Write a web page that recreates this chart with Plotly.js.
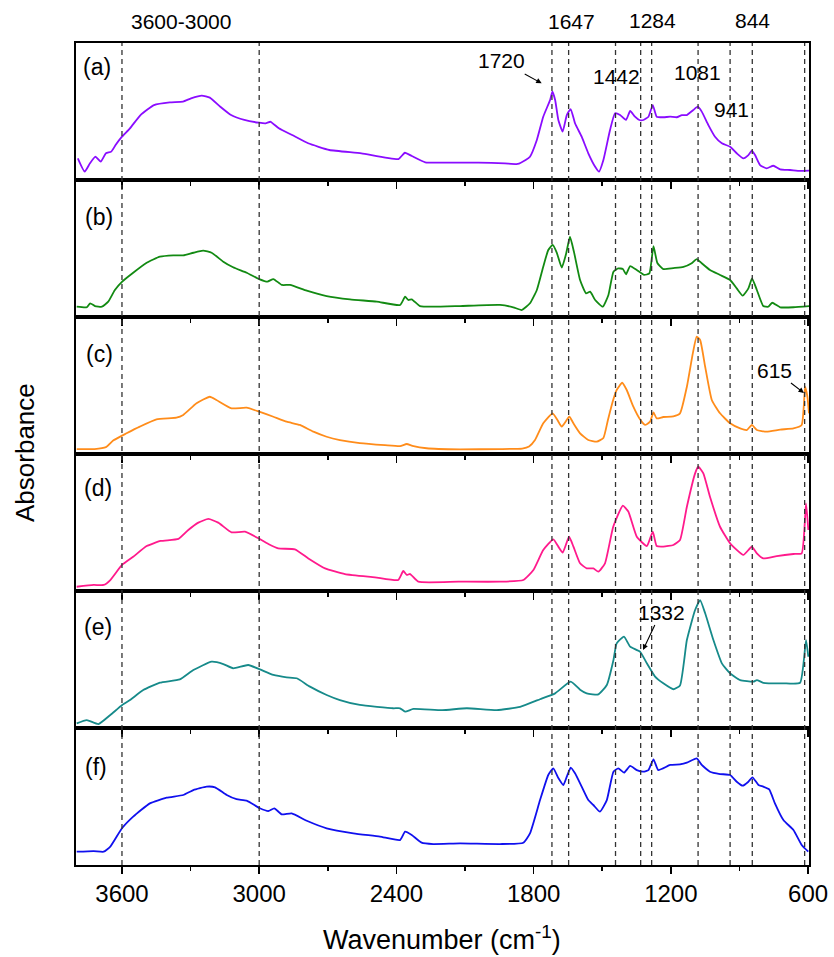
<!DOCTYPE html>
<html>
<head>
<meta charset="utf-8">
<script src="https://cdn.plot.ly/plotly-3.0.1.min.js"></script>
<style>html,body{margin:0;padding:0;background:#fff;}#chart{width:834px;height:957px;}</style>
</head>
<body>
<div id="chart"></div>
<script>
// ---------- DATA ----------
const panelLabels = ['(a)', '(b)', '(c)', '(d)', '(e)', '(f)'];
const xTickVals = [3600, 3000, 2400, 1800, 1200, 600];
const xMinorTickVals = [3300, 2700, 2100, 1500, 900];
const peakLines = [3600, 3000, 1720, 1647, 1442, 1332, 1284, 1081, 941, 844, 615];

const wnA = [3793,3763,3740,3716,3693,3670,3647,3628,3600,3565,3519,3460,3391,3333,3298,3251,3216,3170,3123,3065,3000,2972,2950,2914,2856,2786,2693,2553,2391,2363,2333,2274,2158,2042,1926,1870,1835,1816,1786,1758,1728,1718,1706,1692,1673,1655,1638,1619,1590,1561,1531,1514,1495,1466,1444,1422,1396,1378,1357,1338,1320,1298,1279,1262,1233,1203,1174,1152,1130,1102,1082,1065,1036,1007,977,941,912,883,861,846,832,810,781,752,722,679,635,594];
const absA = [0.158,0.061,0.122,0.170,0.134,0.195,0.207,0.255,0.316,0.377,0.474,0.547,0.567,0.572,0.596,0.616,0.601,0.535,0.474,0.438,0.418,0.414,0.425,0.377,0.328,0.268,0.219,0.195,0.153,0.199,0.175,0.129,0.127,0.127,0.122,0.117,0.146,0.170,0.292,0.462,0.584,0.645,0.584,0.438,0.353,0.474,0.518,0.414,0.316,0.195,0.097,0.061,0.146,0.365,0.487,0.474,0.438,0.504,0.462,0.438,0.438,0.462,0.547,0.462,0.458,0.462,0.458,0.474,0.474,0.511,0.535,0.499,0.401,0.316,0.268,0.243,0.195,0.158,0.182,0.214,0.182,0.109,0.085,0.104,0.078,0.073,0.066,0.068];

const wnB = [3798,3754,3739,3718,3688,3660,3631,3599,3551,3492,3434,3376,3332,3288,3245,3208,3157,3114,3055,3000,2964,2938,2901,2865,2792,2705,2603,2486,2384,2362,2348,2333,2297,2239,2122,1947,1889,1852,1816,1786,1758,1736,1717,1699,1677,1658,1641,1623,1597,1571,1553,1531,1498,1473,1451,1430,1410,1396,1378,1349,1317,1294,1276,1259,1233,1189,1145,1109,1087,1065,1029,985,941,912,886,861,845,824,796,774,757,722,664,594];
const absB = [0.075,0.071,0.100,0.080,0.075,0.112,0.197,0.258,0.323,0.396,0.440,0.450,0.450,0.469,0.484,0.469,0.404,0.363,0.323,0.277,0.258,0.277,0.234,0.234,0.192,0.153,0.129,0.112,0.088,0.148,0.124,0.129,0.080,0.075,0.080,0.088,0.071,0.051,0.100,0.197,0.367,0.489,0.526,0.470,0.360,0.462,0.586,0.470,0.270,0.173,0.185,0.124,0.075,0.161,0.331,0.355,0.350,0.312,0.372,0.343,0.307,0.318,0.518,0.394,0.350,0.357,0.365,0.392,0.423,0.392,0.343,0.307,0.270,0.209,0.156,0.209,0.282,0.197,0.080,0.075,0.104,0.071,0.071,0.080];

const wnC = [3798,3720,3670,3637,3580,3522,3449,3362,3332,3274,3216,3187,3121,3055,3000,2938,2880,2822,2763,2705,2647,2560,2450,2384,2355,2330,2268,2122,1950,1850,1820,1794,1758,1717,1696,1677,1644,1626,1597,1561,1524,1495,1475,1453,1437,1413,1393,1364,1335,1313,1291,1276,1262,1233,1189,1160,1130,1104,1087,1072,1050,1021,985,941,897,868,846,824,781,722,664,628,613,603,596];
const absC = [0.036,0.036,0.050,0.100,0.151,0.200,0.253,0.265,0.285,0.370,0.418,0.394,0.333,0.338,0.309,0.272,0.236,0.212,0.163,0.126,0.102,0.080,0.065,0.058,0.073,0.060,0.042,0.034,0.036,0.040,0.055,0.102,0.224,0.297,0.248,0.200,0.272,0.224,0.151,0.102,0.090,0.117,0.250,0.390,0.467,0.520,0.467,0.345,0.253,0.212,0.236,0.304,0.260,0.270,0.275,0.297,0.491,0.735,0.856,0.832,0.637,0.394,0.297,0.224,0.187,0.175,0.212,0.175,0.163,0.178,0.187,0.212,0.491,0.418,0.297];

const wnD = [3798,3724,3680,3651,3600,3551,3492,3431,3353,3310,3266,3222,3179,3121,3062,3004,2960,2917,2844,2785,2712,2625,2494,2392,2370,2355,2340,2304,2129,1947,1845,1801,1758,1714,1692,1673,1645,1626,1597,1568,1539,1517,1488,1452,1410,1386,1349,1305,1279,1262,1233,1189,1160,1130,1094,1080,1058,1029,985,941,883,846,824,796,737,664,628,609,599];
const absD = [0.031,0.044,0.044,0.080,0.190,0.250,0.328,0.365,0.380,0.445,0.499,0.526,0.499,0.428,0.433,0.385,0.343,0.311,0.304,0.238,0.165,0.124,0.100,0.080,0.146,0.117,0.124,0.068,0.068,0.068,0.080,0.153,0.299,0.377,0.324,0.280,0.396,0.324,0.202,0.165,0.165,0.141,0.202,0.469,0.623,0.580,0.396,0.328,0.433,0.328,0.324,0.336,0.372,0.615,0.859,0.907,0.859,0.688,0.469,0.348,0.263,0.323,0.275,0.238,0.255,0.270,0.275,0.640,0.445];

const wnE = [3798,3754,3703,3651,3599,3565,3507,3434,3347,3288,3208,3157,3114,3048,2997,2938,2880,2836,2778,2705,2647,2560,2414,2384,2362,2326,2200,2092,1961,1859,1772,1706,1638,1597,1568,1517,1480,1451,1437,1405,1378,1335,1305,1269,1233,1189,1160,1130,1094,1072,1050,1014,977,941,897,839,824,796,708,635,609,599];
const absE = [0.034,0.058,0.029,0.095,0.168,0.204,0.277,0.331,0.355,0.423,0.484,0.467,0.436,0.460,0.428,0.387,0.370,0.363,0.302,0.241,0.204,0.168,0.144,0.144,0.119,0.139,0.130,0.144,0.130,0.155,0.210,0.253,0.338,0.280,0.253,0.245,0.314,0.496,0.618,0.667,0.594,0.557,0.472,0.375,0.326,0.283,0.311,0.642,0.861,0.934,0.837,0.642,0.472,0.399,0.350,0.338,0.350,0.330,0.326,0.330,0.642,0.520];

const wnF = [3798,3724,3680,3651,3600,3551,3478,3405,3332,3288,3230,3193,3142,3099,3055,2997,2960,2934,2902,2858,2792,2705,2588,2472,2384,2362,2333,2290,2239,2122,1947,1845,1816,1772,1736,1714,1692,1670,1655,1638,1619,1590,1561,1539,1510,1480,1451,1430,1405,1378,1349,1320,1298,1276,1255,1203,1160,1130,1087,1065,1029,985,941,912,886,861,843,817,796,770,745,708,664,628,599];
const absF = [0.097,0.102,0.097,0.134,0.268,0.353,0.450,0.491,0.511,0.547,0.572,0.567,0.511,0.480,0.470,0.414,0.394,0.414,0.370,0.377,0.323,0.268,0.231,0.207,0.182,0.243,0.219,0.163,0.153,0.158,0.153,0.163,0.231,0.474,0.657,0.706,0.635,0.584,0.645,0.710,0.669,0.572,0.474,0.438,0.389,0.474,0.681,0.706,0.674,0.723,0.693,0.681,0.693,0.771,0.693,0.730,0.735,0.747,0.779,0.730,0.681,0.664,0.657,0.608,0.579,0.608,0.640,0.584,0.572,0.552,0.450,0.328,0.255,0.146,0.097];

const seriesWn = [wnA, wnB, wnC, wnD, wnE, wnF];
const seriesAbs = [absA, absB, absC, absD, absE, absF];
const colors = ['#8a0cff', '#128a12', '#ff8c1a', '#ff1a8c', '#168a8a', '#1010ee'];

// ---------- LAYOUT ----------
const W = 834, H = 957;
const M = {l: 76, r: 25, t: 43, b: 92};
const PW = W - M.l - M.r, PH = H - M.t - M.b;
const PX = x => (x - M.l) / PW;
const PY = y => (M.t + PH - y) / PH;
const FONT = 'Liberation Sans, Arial, sans-serif';
const N = 6;

const traces = [];
const layout = {
  width: W, height: H,
  margin: M,
  paper_bgcolor: '#fff',
  plot_bgcolor: 'rgba(0,0,0,0)',
  showlegend: false,
  font: {family: FONT, color: '#000', size: 20},
  shapes: [],
  annotations: []
};

for (let i = 0; i < N; i++) {
  const s = i === 0 ? '' : String(i + 1);
  traces.push({
    x: seriesWn[i], y: seriesAbs[i],
    xaxis: 'x' + s, yaxis: 'y' + s,
    type: 'scatter', mode: 'lines',
    line: {color: colors[i], width: 1.8, shape: 'spline', smoothing: 0.45},
    hoverinfo: 'skip'
  });
  layout['xaxis' + s] = {
    range: [3801, 596], autorange: false,
    anchor: 'y' + s,
    showline: true, linecolor: '#000', linewidth: 1.6, mirror: true,
    ticks: 'outside', ticklen: 7, tickwidth: 1.6, tickcolor: '#000',
    tickmode: 'array', tickvals: xTickVals, ticktext: xTickVals.map(String),
    minor: {tickmode: 'array', tickvals: xMinorTickVals, ticks: 'outside', ticklen: 4, tickwidth: 1.6, tickcolor: '#000', showgrid: false},
    showticklabels: i === N - 1,
    tickfont: {size: 24, family: FONT, color: '#000'},
    showgrid: false, zeroline: false
  };
  layout['yaxis' + s] = {
    domain: [1 - (i + 1) / N, 1 - i / N],
    range: [0, 1], autorange: false,
    anchor: 'x' + s,
    showline: true, linecolor: '#000', linewidth: 1.6, mirror: true,
    ticks: '', showticklabels: false, showgrid: false, zeroline: false
  };
}

// dashed reference lines through all panels
peakLines.forEach(v => {
  layout.shapes.push({
    type: 'line', xref: 'x', yref: 'paper', x0: v, x1: v, y0: 0, y1: 1,
    line: {color: '#333', width: 1.3, dash: '5px,4px'}, layer: 'above'
  });
});

// panel labels
const panelLabelPos = [[97, 67], [99, 217], [99, 354], [98, 488], [98, 627], [96, 767]];
panelLabels.forEach((t, i) => {
  layout.annotations.push({
    text: t, xref: 'paper', yref: 'paper',
    x: PX(panelLabelPos[i][0]), y: PY(panelLabelPos[i][1]),
    xanchor: 'center', yanchor: 'middle', showarrow: false,
    font: {size: 23, family: FONT, color: '#000'}
  });
});

// peak annotations
const plainLabels = [
  ['3600-3000', 181, 22], ['1647', 571, 22], ['1284', 652, 21], ['844', 752, 21],
  ['1442', 616, 76], ['1081', 697, 73], ['941', 731, 109]
];
plainLabels.forEach(([t, x, y]) => {
  layout.annotations.push({
    text: t, xref: 'paper', yref: 'paper', x: PX(x), y: PY(y),
    xanchor: 'center', yanchor: 'middle', showarrow: false,
    font: {size: 21, family: FONT, color: '#000'}
  });
});
const arrowLabels = [
  // text, tip x, tip y, text center x, text center y
  ['1720', 541.7, 83.3, 501, 61],
  ['615', 804, 393, 774, 370],
  ['1332', 643, 650, 661, 612]
];
arrowLabels.forEach(([t, tx, ty, cx, cy]) => {
  layout.annotations.push({
    text: t, xref: 'paper', yref: 'paper', x: PX(tx), y: PY(ty),
    showarrow: true, ax: cx - tx, ay: cy - ty,
    arrowhead: 2, arrowsize: 1, arrowwidth: 1.1, arrowcolor: '#000', standoff: 0,
    font: {size: 21, family: FONT, color: '#000'}
  });
});

// axis titles
layout.annotations.push({
  text: 'Absorbance', xref: 'paper', yref: 'paper',
  x: PX(25), y: PY(453), xanchor: 'center', yanchor: 'middle',
  textangle: -90, showarrow: false,
  font: {size: 26, family: FONT, color: '#000'}
});
layout.annotations.push({
  text: 'Wavenumber (cm<sup>-1</sup>)', xref: 'paper', yref: 'paper',
  x: PX(442), y: PY(938), xanchor: 'center', yanchor: 'middle',
  showarrow: false,
  font: {size: 27, family: FONT, color: '#000'}
});

Plotly.newPlot('chart', traces, layout, {displayModeBar: false, staticPlot: true});
</script>
</body>
</html>
